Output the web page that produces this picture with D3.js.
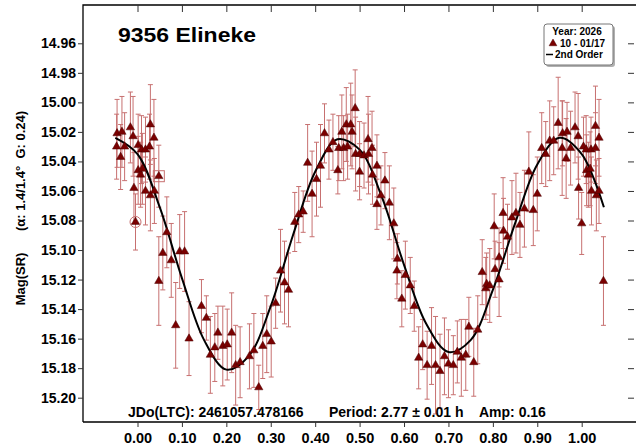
<!DOCTYPE html>
<html>
<head>
<meta charset="utf-8">
<script src="https://cdn.jsdelivr.net/npm/d3@7"></script>
<style>
  html, body { margin: 0; padding: 0; background: #fff; }
  svg { display: block; }
  text { font-family: "Liberation Sans", Arial, sans-serif; font-weight: bold; fill: #000; }
</style>
</head>
<body>
<div id="chart"></div>
<script>
// ------------------------------------------------------------------
//  Data
// ------------------------------------------------------------------
var phase = [
  -0.047, -0.046, -0.038, -0.035, -0.029, -0.016, -0.010, -0.008, -0.0045, 0.0015,
  0.0015, 0.007, 0.009, 0.011, 0.018, 0.018, 0.027, 0.029, 0.029, 0.037,
  0.038, 0.048, 0.048, 0.057, 0.066, 0.076, 0.086, 0.095, 0.106, 0.116,
  0.144, 0.155, 0.164, 0.174, 0.181, 0.192, 0.202, 0.212, 0.221, 0.231,
  0.252, 0.262, 0.273, 0.282, 0.291, 0.301, 0.311, 0.322, 0.331, 0.340,
  0.354, 0.363, 0.373, 0.383, 0.393, 0.403, 0.412, 0.421, 0.431, 0.440,
  0.451, 0.453, 0.460, 0.464, 0.470, 0.473, 0.480, 0.483, 0.490, 0.491,
  0.500, 0.500, 0.510, 0.519, 0.520, 0.528, 0.529, 0.539, 0.539, 0.548,
  0.557, 0.567, 0.577, 0.585, 0.584, 0.595, 0.603, 0.614, 0.623, 0.633,
  0.642, 0.652, 0.662, 0.671, 0.681, 0.691, 0.700, 0.711, 0.720, 0.729,
  0.739, 0.746, 0.757, 0.766, 0.776, 0.784, 0.786, 0.793, 0.803, 0.805,
  0.814, 0.814, 0.823, 0.824, 0.833, 0.843, 0.852, 0.861, 0.871, 0.881,
  0.891, 0.900, 0.910, 0.919, 0.928, 0.937, 0.947, 0.956, 0.957, 0.965,
  0.967, 0.975, 0.985, 0.992, 0.993, 1.000, 1.004, 1.010, 1.011, 1.015,
  1.019, 1.021, 1.022, 1.031, 1.031, 1.033, 1.039, 1.039, 1.049
];
var mag = [
  15.030, 15.021, 15.037, 15.020, 15.030, 15.017, 15.023, 15.058, 15.081, 15.029,
  15.046, 15.049, 15.032, 15.045, 15.032, 15.060, 15.030, 15.015, 15.063, 15.024,
  15.060, 15.050, 15.121, 15.102, 15.088, 15.107, 15.151, 15.101, 15.101, 15.160,
  15.138, 15.146, 15.171, 15.166, 15.156, 15.165, 15.164, 15.156, 15.178, 15.176,
  15.172, 15.168, 15.193, 15.165, 15.157, 15.162, 15.136, 15.114, 15.122, 15.127,
  15.081, 15.076, 15.074, 15.041, 15.062, 15.052, 15.043, 15.021, 15.032, 15.027,
  15.046, 15.031, 15.020, 15.031, 15.015, 15.030, 15.015, 15.020, 15.004, 15.035,
  15.047, 15.035, 15.036, 15.025, 15.035, 15.031, 15.049, 15.043, 15.069, 15.063,
  15.053, 15.068, 15.082, 15.106, 15.114, 15.133, 15.117, 15.124, 15.138, 15.173,
  15.164, 15.178, 15.165, 15.178, 15.182, 15.172, 15.177, 15.178, 15.169, 15.173,
  15.171, 15.152, 15.176, 15.154, 15.115, 15.126, 15.123, 15.124, 15.084, 15.113,
  15.105, 15.120, 15.075, 15.087, 15.091, 15.078, 15.075, 15.083, 15.072, 15.047,
  15.073, 15.062, 15.031, 15.035, 15.026, 15.026, 15.014, 15.031, 15.021, 15.038,
  15.020, 15.031, 15.017, 15.023, 15.058, 15.082, 15.030, 15.032, 15.046, 15.049,
  15.045, 15.032, 15.060, 15.016, 15.031, 15.063, 15.024, 15.060, 15.121
];
var magErr = [
  0.022, 0.023, 0.022, 0.024, 0.023, 0.024, 0.027, 0.024, 0.019, 0.021,
  0.023, 0.022, 0.023, 0.024, 0.022, 0.023, 0.022, 0.027, 0.024, 0.026,
  0.022, 0.021, 0.030, 0.025, 0.024, 0.025, 0.029, 0.025, 0.027, 0.025,
  0.018, 0.015, 0.026, 0.023, 0.018, 0.027, 0.024, 0.027, 0.027, 0.024,
  0.022, 0.025, 0.015, 0.022, 0.026, 0.024, 0.017, 0.028, 0.028, 0.025,
  0.020, 0.019, 0.014, 0.026, 0.029, 0.025, 0.028, 0.020, 0.020, 0.019,
  0.016, 0.022, 0.025, 0.022, 0.025, 0.022, 0.028, 0.025, 0.026, 0.025,
  0.019, 0.022, 0.022, 0.029, 0.027, 0.025, 0.020, 0.021, 0.017, 0.020,
  0.019, 0.025, 0.024, 0.017, 0.019, 0.019, 0.023, 0.019, 0.017, 0.021,
  0.017, 0.023, 0.026, 0.033, 0.025, 0.026, 0.023, 0.020, 0.021, 0.026,
  0.024, 0.020, 0.023, 0.023, 0.022, 0.021, 0.021, 0.025, 0.022, 0.019,
  0.020, 0.025, 0.024, 0.022, 0.022, 0.025, 0.027, 0.022, 0.026, 0.027,
  0.024, 0.025, 0.024, 0.022, 0.027, 0.023, 0.031, 0.032, 0.022, 0.027,
  0.020, 0.025, 0.024, 0.029, 0.021, 0.021, 0.020, 0.023, 0.024, 0.022,
  0.025, 0.022, 0.023, 0.027, 0.024, 0.024, 0.026, 0.022, 0.030
];
// index of the points that carry an extra marker in the plot
var boxedPoints = [21];
var circledPoints = [8];

// 2nd order fit, read at steps of 0.05 in phase
var fitPhase = [-0.05, 0.00, 0.05, 0.10, 0.15, 0.20, 0.25, 0.30, 0.35, 0.40, 0.45, 0.50,
                0.55, 0.60, 0.65, 0.70, 0.75, 0.80, 0.85, 0.90, 0.95, 1.00, 1.05];
var fitMag = [15.024, 15.035, 15.071, 15.119, 15.161, 15.181, 15.172, 15.138, 15.090, 15.047, 15.025, 15.032,
              15.064, 15.110, 15.150, 15.169, 15.161, 15.127, 15.082, 15.042, 15.024, 15.035, 15.071];

var xTicks = [0.00, 0.10, 0.20, 0.30, 0.40, 0.50, 0.60, 0.70, 0.80, 0.90, 1.00];
var yTicks = [14.96, 14.98, 15.00, 15.02, 15.04, 15.06, 15.08, 15.10, 15.12, 15.14, 15.16, 15.18, 15.20];

var titleText = "9356 Elineke";
var yLabelMain = "Mag(SR)";
var yLabelInfo = "(\u03b1: 1.4/1.4\u00b0  G: 0.24)";
var infoTexts = ["JDo(LTC): 2461057.478166", "Period: 2.77 \u00b1 0.01 h", "Amp: 0.16"];
var legendTitle = "Year: 2026";
var legendSeries = "10 - 01/17";
var legendFit = "2nd Order";

// ------------------------------------------------------------------
//  Layout
// ------------------------------------------------------------------
var W = 636, H = 446;
var frame = {left: 83, top: 5, right: 634, bottom: 422};
var POINT_COLOR = "#7a0000";
var ERR_COLOR = "#c77070";

var svg = d3.select("#chart").append("svg")
    .attr("width", W).attr("height", H);

var x = d3.scaleLinear().domain([0, 1]).range([137.5, 581.7]);
var y = d3.scaleLinear().domain([14.96, 15.20]).range([43.3, 397.7]);

// Frame (left, top, bottom; right side only has ticks)
svg.append("path")
    .attr("d", "M" + frame.left + "," + frame.bottom + "V" + frame.top + "H" + W +
               "M" + frame.left + "," + frame.bottom + "H" + W)
    .attr("fill", "none").attr("stroke", "#000").attr("stroke-width", 1.3);

// Axes
var fmt = d3.format(".2f");

var gx = svg.append("g")
    .attr("transform", "translate(0," + frame.bottom + ")")
    .call(d3.axisBottom(x).tickValues(xTicks).tickFormat(fmt).tickSize(5));
gx.selectAll("text").attr("y", 20.5).attr("dy", null).style("font-size", "14.5px");

svg.append("g")
    .attr("transform", "translate(0," + frame.top + ")")
    .call(d3.axisBottom(x).tickValues(xTicks).tickFormat("").tickSize(7));

var gy = svg.append("g")
    .attr("transform", "translate(" + frame.left + ",0)")
    .call(d3.axisLeft(y).tickValues(yTicks).tickFormat(fmt).tickSize(5).tickPadding(2));
gy.selectAll("text").style("font-size", "14px");

svg.append("g")
    .attr("transform", "translate(" + frame.right + ",0)")
    .call(d3.axisLeft(y).tickValues(yTicks).tickFormat("").tickSize(6));

svg.selectAll(".domain").remove();
svg.selectAll(".tick line").attr("stroke", "#333");

// Error bars
var pts = phase.map(function(p, i){ return {x: p, y: mag[i], e: magErr[i], i: i}; });

var gErr = svg.append("g").attr("stroke", ERR_COLOR).attr("stroke-width", 1).attr("fill", "none");
pts.forEach(function(d){
    var px = x(d.x), y0 = y(d.y - d.e), y1 = y(d.y + d.e);
    gErr.append("path")
        .attr("d", "M" + px + "," + y0 + "V" + y1 +
                   "M" + (px - 2.5) + "," + y0 + "H" + (px + 2.5) +
                   "M" + (px - 2.5) + "," + y1 + "H" + (px + 2.5));
});

// Extra markers
boxedPoints.forEach(function(i){
    svg.append("rect")
        .attr("x", x(phase[i]) - 5.5).attr("y", y(mag[i]) - 5.5)
        .attr("width", 11).attr("height", 11)
        .attr("fill", "none").attr("stroke", ERR_COLOR).attr("stroke-width", 1);
});
circledPoints.forEach(function(i){
    svg.append("circle")
        .attr("cx", x(phase[i])).attr("cy", y(mag[i])).attr("r", 5.5)
        .attr("fill", "none").attr("stroke", ERR_COLOR).attr("stroke-width", 1);
});

// Fit curve
svg.append("path")
    .datum(fitPhase.map(function(p, i){ return [p, fitMag[i]]; }))
    .attr("fill", "none").attr("stroke", "#000").attr("stroke-width", 2)
    .attr("d", d3.line()
        .x(function(d){ return x(d[0]); })
        .y(function(d){ return y(d[1]); })
        .curve(d3.curveCatmullRom));

// Points
var tri = d3.symbol().type(d3.symbolTriangle).size(30);
svg.append("g").selectAll("path").data(pts).join("path")
    .attr("d", tri)
    .attr("transform", function(d){ return "translate(" + x(d.x) + "," + y(d.y) + ")"; })
    .attr("fill", POINT_COLOR).attr("stroke", "#4a0000").attr("stroke-width", 0.5);

// Title
svg.append("text")
    .attr("x", 118).attr("y", 42)
    .attr("textLength", 138).attr("lengthAdjust", "spacingAndGlyphs")
    .style("font-size", "20px")
    .text(titleText);

// Y axis title
svg.append("text")
    .attr("transform", "translate(25,279) rotate(-90)")
    .attr("text-anchor", "middle").style("font-size", "13px")
    .text(yLabelMain);
svg.append("text")
    .attr("transform", "translate(25,171) rotate(-90)")
    .attr("text-anchor", "middle").style("font-size", "13px")
    .style("white-space", "pre")
    .text(yLabelInfo);

// Info line inside the plot
var infoX = [128, 329, 479];
infoTexts.forEach(function(t, i){
    svg.append("text")
        .attr("x", infoX[i]).attr("y", 417)
        .style("font-size", "14px")
        .text(t);
});

// Legend
var lg = svg.append("g");
lg.append("rect").attr("x", 546).attr("y", 26).attr("width", 69).attr("height", 41)
    .attr("rx", 3).attr("fill", "#b0b0b0");
lg.append("rect").attr("x", 544).attr("y", 24).attr("width", 69).attr("height", 41)
    .attr("rx", 3).attr("fill", "#fff").attr("stroke", "#777").attr("stroke-width", 1);
lg.append("text").attr("x", 577).attr("y", 35).attr("text-anchor", "middle")
    .style("font-size", "10px").text(legendTitle);
lg.append("path").attr("d", d3.symbol().type(d3.symbolTriangle).size(26))
    .attr("transform", "translate(553,43.5)")
    .attr("fill", POINT_COLOR).attr("stroke", "#4a0000").attr("stroke-width", 0.5);
lg.append("text").attr("x", 560).attr("y", 47)
    .style("font-size", "10px").text(legendSeries);
lg.append("line").attr("x1", 546).attr("x2", 553).attr("y1", 54.5).attr("y2", 54.5)
    .attr("stroke", "#000").attr("stroke-width", 1.5);
lg.append("text").attr("x", 555).attr("y", 58)
    .style("font-size", "10px").text(legendFit);
</script>
</body>
</html>
